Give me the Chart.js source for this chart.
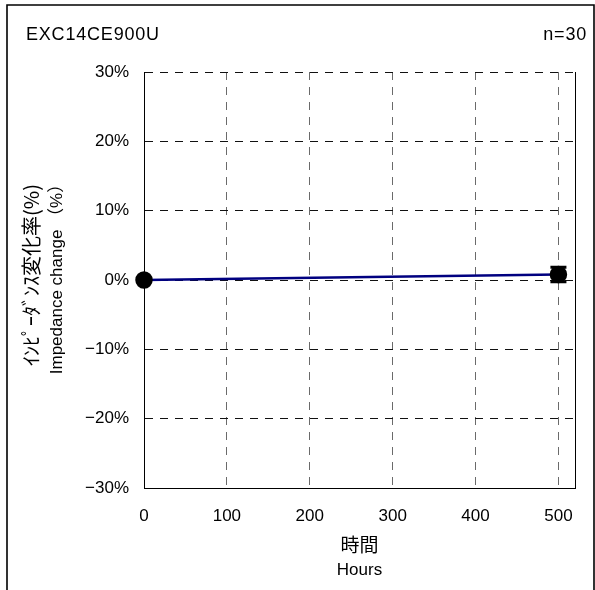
<!DOCTYPE html>
<html>
<head>
<meta charset="utf-8">
<script src="https://cdn.jsdelivr.net/npm/chart.js@4/dist/chart.umd.min.js"></script>
<style>
html,body{margin:0;padding:0;background:#fff;}
#wrap{width:595px;height:590px;position:relative;}
</style>
</head>
<body>
<div id="wrap"><canvas id="c" width="595" height="590"></canvas></div>
<script>
// ---- data ----
const hours = [0, 500];
const meanChange = [0, 0.8];
const errPlus = [0, 1.05];
const errMinus = [0, 1.05];
const xTicks = [0, 100, 200, 300, 400, 500];
const yTicks = [-30, -20, -10, 0, 10, 20, 30];
const chartTitle = 'EXC14CE900U';
const sampleLabel = 'n=30';
const yTitleJp = 'ｲﾝﾋﾟｰﾀﾞﾝｽ変化率(%)';
const yTitleEn = 'Impedance change （%）';
const xTitleJp = '時間';
const xTitleEn = 'Hours';

const LATIN = "'Liberation Sans', Arial, sans-serif";
const CJK = "'Noto Sans CJK JP', sans-serif";

const framePlugin = {
  id: 'frame',
  beforeDraw(chart) {
    const ctx = chart.ctx;
    ctx.save();
    ctx.fillStyle = '#fff';
    ctx.fillRect(0, 0, chart.width, chart.height);
    ctx.restore();
  },
  afterDraw(chart) {
    const ctx = chart.ctx;
    const area = chart.chartArea;
    ctx.save();
    // outer frame
    ctx.strokeStyle = '#000';
    ctx.lineWidth = 1.6;
    ctx.beginPath();
    ctx.moveTo(7, 600);
    ctx.lineTo(7, 5);
    ctx.lineTo(594, 5);
    ctx.lineTo(594, 600);
    ctx.stroke();
    // right edge of plot area
    ctx.lineWidth = 1;
    ctx.beginPath();
    ctx.moveTo(Math.round(area.right) + 0.5, area.top);
    ctx.lineTo(Math.round(area.right) + 0.5, area.bottom);
    ctx.stroke();
    // header texts
    ctx.fillStyle = '#000';
    ctx.font = '18px ' + LATIN;
    ctx.letterSpacing = '0.8px';
    ctx.textBaseline = 'middle';
    ctx.textAlign = 'left';
    ctx.fillText(chartTitle, 26, 35);
    ctx.textAlign = 'right';
    ctx.fillText(sampleLabel, 587, 35);
    ctx.letterSpacing = '0px';
    // x axis title
    const cx = (area.left + area.right) / 2;
    ctx.textAlign = 'center';
    ctx.font = '19px ' + CJK;
    ctx.fillText(xTitleJp, cx, 545);
    ctx.font = '17px ' + LATIN;
    ctx.fillText(xTitleEn, cx, 570);
    // y axis title (rotated)
    const cy = 275;
    ctx.save();
    ctx.translate(31, cy);
    ctx.rotate(-Math.PI / 2);
    ctx.font = '20px ' + CJK;
    ctx.fillText(yTitleJp, 0, 0);
    ctx.restore();
    ctx.save();
    ctx.translate(57.5, cy);
    ctx.rotate(-Math.PI / 2);
    ctx.font = '17px ' + LATIN + ", 'Noto Sans CJK JP'";
    ctx.fillText(yTitleEn, 0, 0);
    ctx.restore();
    ctx.restore();
  }
};

const errorBarPlugin = {
  id: 'errbars',
  afterDatasetsDraw(chart) {
    const xs = chart.scales.x, ys = chart.scales.y, ctx = chart.ctx;
    ctx.save();
    ctx.strokeStyle = '#000';
    ctx.lineWidth = 3;
    hours.forEach((h, i) => {
      if (!errPlus[i] && !errMinus[i]) return;
      const px = xs.getPixelForValue(h);
      const top = ys.getPixelForValue(meanChange[i] + errPlus[i]);
      const bot = ys.getPixelForValue(meanChange[i] - errMinus[i]);
      ctx.beginPath();
      ctx.moveTo(px, top); ctx.lineTo(px, bot);
      ctx.moveTo(px - 8, top); ctx.lineTo(px + 8, top);
      ctx.moveTo(px - 8, bot); ctx.lineTo(px + 8, bot);
      ctx.stroke();
    });
    ctx.restore();
  }
};

new Chart(document.getElementById('c'), {
  type: 'scatter',
  data: {
    datasets: [{
      data: hours.map((h, i) => ({x: h, y: meanChange[i]})),
      showLine: true,
      borderColor: '#000080',
      borderWidth: 2.5,
      pointBackgroundColor: '#000',
      pointBorderColor: '#000',
      pointRadius: 7.5,
      pointHoverRadius: 7.5,
      clip: false
    }]
  },
  options: {
    responsive: false,
    animation: false,
    devicePixelRatio: 1,
    layout: {padding: {left: 0, right: 20, top: 72, bottom: 0}},
    plugins: {legend: {display: false}, tooltip: {enabled: false}},
    scales: {
      x: {
        type: 'linear',
        min: 0, max: 520,
        afterBuildTicks(scale) { scale.ticks = xTicks.map(v => ({value: v})); },
        afterFit(scale) { scale.height = 102; },
        ticks: {
          padding: 18,
          color: '#000',
          font: {family: LATIN, size: 17},
          maxRotation: 0,
          callback: v => String(v)
        },
        grid: {
          color: '#6a6a6a',
          lineWidth: 1,
          drawTicks: false,
          tickLength: 0
        },
        border: {display: true, color: '#000', width: 1, dash: [8, 7]},
        title: {display: false}
      },
      y: {
        type: 'linear',
        min: -30, max: 30,
        afterBuildTicks(scale) { scale.ticks = yTicks.map(v => ({value: v})); },
        afterFit(scale) { scale.width = 144; },
        ticks: {
          padding: 15,
          color: '#000',
          font: {family: LATIN, size: 17},
          callback: v => (v < 0 ? '\u2212' + Math.abs(v) : v) + '%'
        },
        grid: {
          color: '#111',
          lineWidth: 1,
          drawTicks: false,
          tickLength: 0
        },
        border: {display: true, color: '#000', width: 1, dash: [8, 7]},
        title: {display: false}
      }
    }
  },
  plugins: [framePlugin, errorBarPlugin]
});
</script>
</body>
</html>
